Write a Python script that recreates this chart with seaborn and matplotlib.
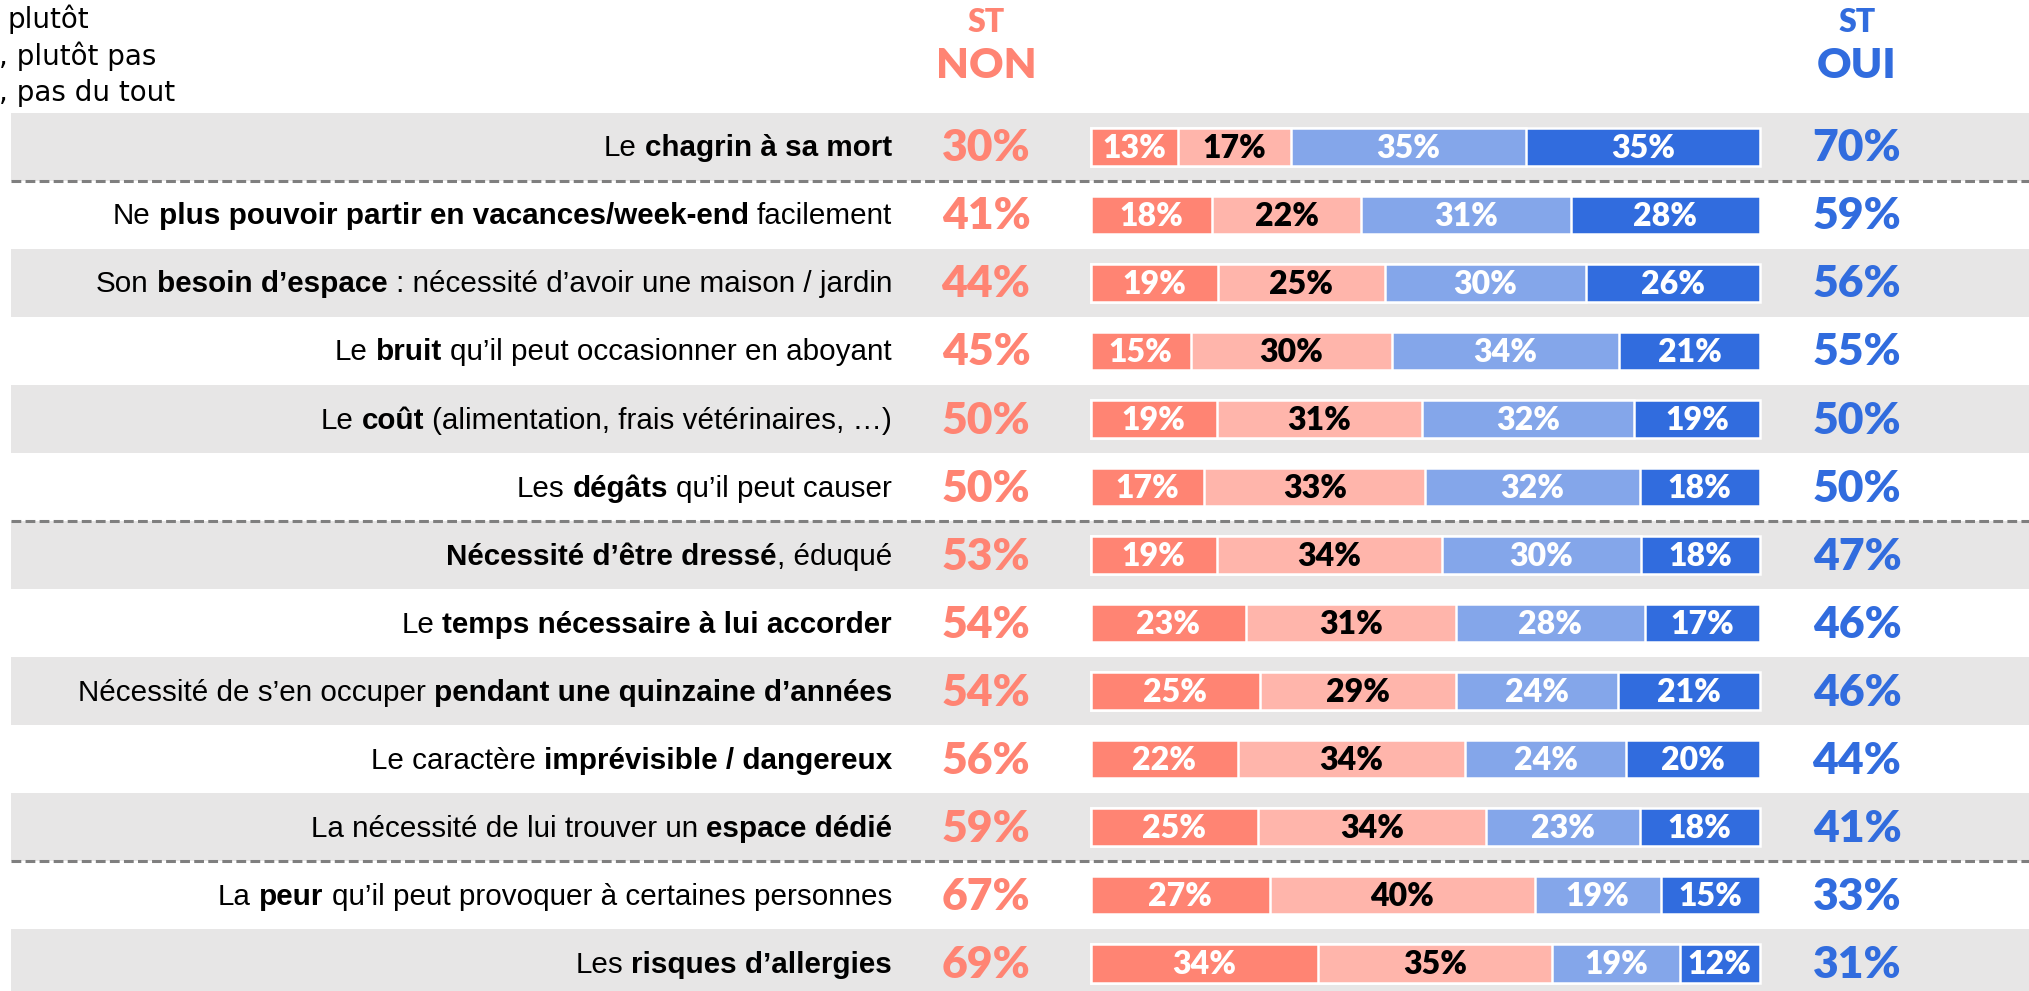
import seaborn as sns
import matplotlib.pyplot as plt
import pandas as pd
import numpy as np

sns.set_style("white")

# ---- data (top to bottom) ----
label_parts = [
    [("Le ", 0), ("chagrin à sa mort", 1)],
    [("Ne ", 0), ("plus pouvoir partir en vacances/week-end", 1), (" facilement", 0)],
    [("Son ", 0), ("besoin d’espace", 1), (" : nécessité d’avoir une maison / jardin", 0)],
    [("Le ", 0), ("bruit", 1), (" qu’il peut occasionner en aboyant", 0)],
    [("Le ", 0), ("coût", 1), (" (alimentation, frais vétérinaires, …)", 0)],
    [("Les ", 0), ("dégâts", 1), (" qu’il peut causer", 0)],
    [("Nécessité d’être dressé", 1), (", éduqué", 0)],
    [("Le ", 0), ("temps nécessaire à lui accorder", 1)],
    [("Nécessité de s’en occuper ", 0), ("pendant une quinzaine d’années", 1)],
    [("Le caractère ", 0), ("imprévisible / dangereux", 1)],
    [("La nécessité de lui trouver un ", 0), ("espace dédié", 1)],
    [("La ", 0), ("peur", 1), (" qu’il peut provoquer à certaines personnes", 0)],
    [("Les ", 0), ("risques d’allergies", 1)],
]
items = ["".join(p for p, _ in parts) for parts in label_parts]

non_tout = [13, 18, 19, 15, 19, 17, 19, 23, 25, 22, 25, 27, 34]
non_plutot = [17, 22, 25, 30, 31, 33, 34, 31, 29, 34, 34, 40, 35]
oui_plutot = [35, 31, 30, 34, 32, 32, 30, 28, 24, 24, 23, 19, 19]
oui_tout = [35, 28, 26, 21, 19, 18, 18, 17, 21, 20, 18, 15, 12]
st_non = [30, 41, 44, 45, 50, 50, 53, 54, 54, 56, 59, 67, 69]
st_oui = [70, 59, 56, 55, 50, 50, 47, 46, 46, 44, 41, 33, 31]

legend_lines = ["plutôt", ", plutôt pas", ", pas du tout"]
separators_after = [0, 5, 10]

# ---- colours / fonts ----
C_NON = "#FF8473"
C_NON_L = "#FFB5AB"
C_OUI_L = "#84A6EA"
C_OUI = "#316CDE"
BAND = "#E7E6E6"
LABEL_FONT = "Liberation Sans"
NUM_FONT = "Lato"
LABEL_SIZE = 21.3

df = pd.DataFrame({"item": items, "a": non_tout, "b": non_plutot,
                   "c": oui_plutot, "d": oui_tout})
# rounded values don't always add up to 100: bars are drawn as shares of the row total
tot = df[["a", "b", "c", "d"]].sum(axis=1)
for k in ["a", "b", "c", "d"]:
    df["w_" + k] = df[k] * 100 / tot
df["c1"] = df["w_a"]
df["c2"] = df["c1"] + df["w_b"]
df["c3"] = df["c2"] + df["w_c"]
df["c4"] = df["c3"] + df["w_d"]

W, H = 2029, 991
fig = plt.figure(figsize=(W / 100, H / 100), dpi=100)
ax = fig.add_axes([0, 0, 1, 1])

# pixel -> data helpers (bar 0% at x=1091px, 100% at 1760px; rows every 68px)
X0, XS = 1090.6, 6.694
Y0, YS = 147.0, 68.04
def px(x):
    return (x - X0) / XS
def py(y):
    return (y - Y0) / YS

n = len(items)
# alternating bands
for i in range(0, n, 2):
    ax.axhspan(i - 0.5, i + 0.5, xmin=11 / W, xmax=1, color=BAND, lw=0, zorder=0)
for s in separators_after:
    ax.axhline(s + 0.5, xmin=11 / W, xmax=1, color="#7F7F7F", lw=2.2,
               ls=(0, (3.2, 1.4)), zorder=1)

# stacked bars (overlaid cumulative)
for col, colr in [("c4", C_OUI), ("c3", C_OUI_L), ("c2", C_NON_L), ("c1", C_NON)]:
    sns.barplot(data=df, x=col, y="item", order=items, orient="h", color=colr,
                saturation=1, width=0.56, edgecolor="white", linewidth=1.8,
                ax=ax, zorder=3)

ax.set_xlim(px(0), px(W))
ax.set_ylim(py(H), py(0))
ax.axis("off")

# segment labels
for i, row in df.iterrows():
    segs = [(row["a"], row["w_a"], row["c1"], "white"),
            (row["b"], row["w_b"], row["c2"], "black"),
            (row["c"], row["w_c"], row["c3"], "white"),
            (row["d"], row["w_d"], row["c4"], "white")]
    for v, w, cum, tc in segs:
        ax.text(cum - w / 2, i + 0.02, f"{v}%", ha="center", va="center",
                fontsize=23, fontweight="heavy", color=tc, family=NUM_FONT, zorder=5)
    ax.text(px(986), i + 0.02, f"{st_non[i]}%", ha="center", va="center",
            fontsize=32, fontweight="heavy", color=C_NON, family=NUM_FONT)
    ax.text(px(1857), i + 0.02, f"{st_oui[i]}%", ha="center", va="center",
            fontsize=32, fontweight="heavy", color=C_OUI, family=NUM_FONT)

# headers
for xc, word, colr in [(986, "NON", C_NON), (1857, "OUI", C_OUI)]:
    ax.text(px(xc), py(23), "ST", ha="center", va="center", fontsize=23,
            fontweight="heavy", color=colr, family=NUM_FONT)
    ax.text(px(xc), py(66), word, ha="center", va="center", fontsize=30.5,
            fontweight="heavy", color=colr, family=NUM_FONT)

# legend remnant (top-left)
for k, (t, x0) in enumerate(zip(legend_lines, [7, -1, -1])):
    ax.text(px(x0), py(19 + 37 * k), t, ha="left", va="center", fontsize=20,
            color="black", family="DejaVu Sans")

# mixed-weight row labels, right aligned at 892px
renderer = fig.canvas.get_renderer()
def text_w(s, bold):
    w = "bold" if bold else "normal"
    t1 = ax.text(0, 0, "|" + s + "|", fontsize=LABEL_SIZE, family=LABEL_FONT, fontweight=w)
    t2 = ax.text(0, 0, "||", fontsize=LABEL_SIZE, family=LABEL_FONT, fontweight=w)
    d = t1.get_window_extent(renderer).width - t2.get_window_extent(renderer).width
    t1.remove()
    t2.remove()
    return d

for i, parts in enumerate(label_parts):
    widths = [text_w(p, b) for p, b in parts]
    cursor = 892 - sum(widths)
    for (p, b), w in zip(parts, widths):
        lead = len(p) - len(p.lstrip(" "))
        off = text_w(" " * lead, b) if lead else 0
        ax.text(px(cursor + off), i + 0.02, p.strip(" "), ha="left", va="center",
                fontsize=LABEL_SIZE, family=LABEL_FONT,
                fontweight="bold" if b else "normal", color="black")
        cursor += w

fig.savefig("out.png", dpi=100)
plt.close()
